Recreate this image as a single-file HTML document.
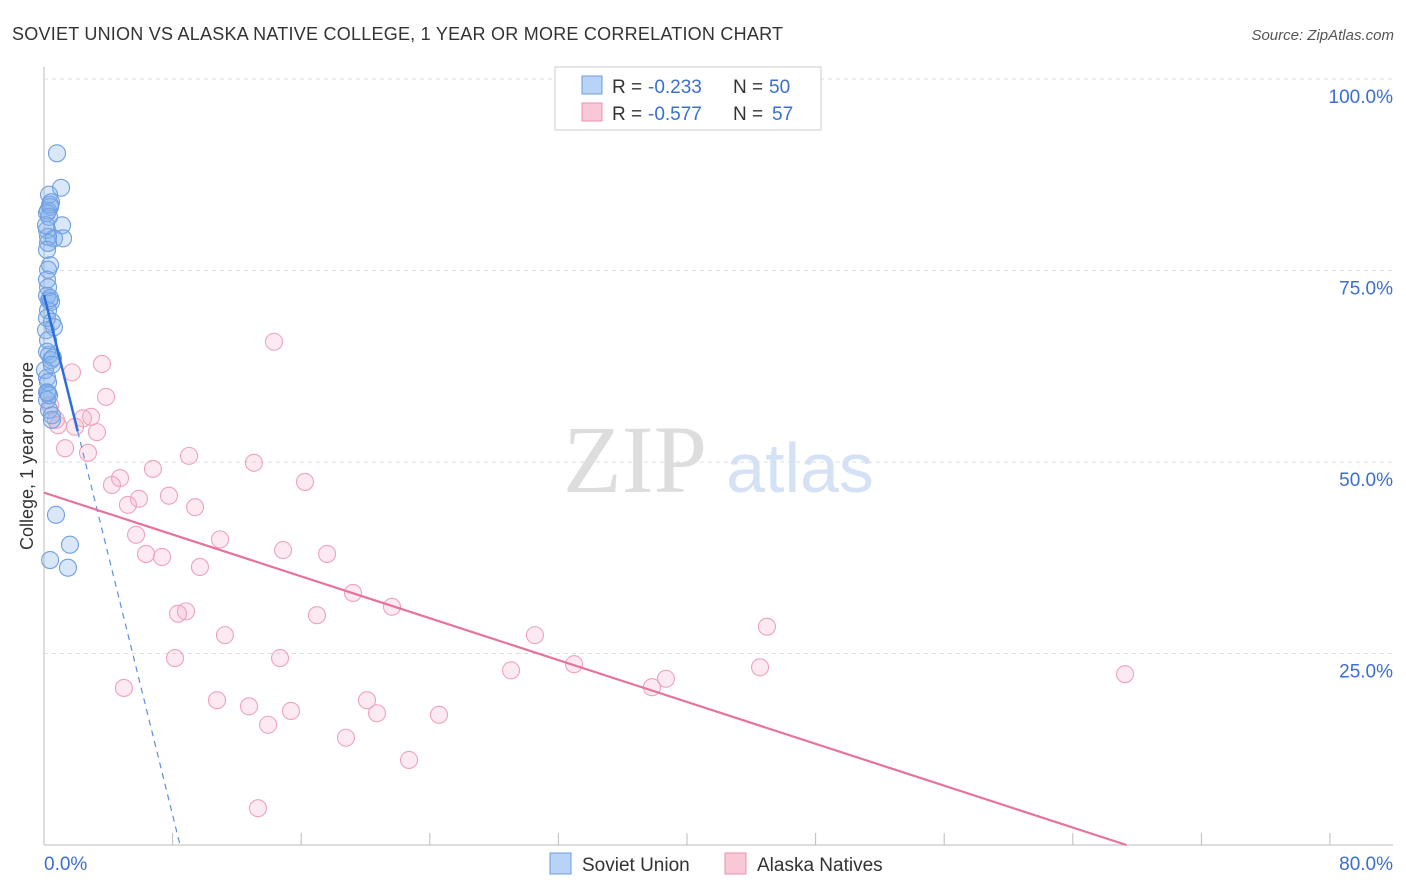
<!DOCTYPE html>
<html><head><meta charset="utf-8"><style>
body{margin:0;background:#fff;font-family:"Liberation Sans",sans-serif;}
svg{display:block}
</style></head><body>
<svg id="c" width="1406" height="892">
<text x="12" y="40" font-size="18" fill="#333" textLength="771">SOVIET UNION VS ALASKA NATIVE COLLEGE, 1 YEAR OR MORE CORRELATION CHART</text>
<text x="1394" y="40" font-size="15" fill="#555" font-style="italic" text-anchor="end">Source: ZipAtlas.com</text>
<text x="635" y="492" font-size="96" fill="#ddd" font-family="Liberation Serif" text-anchor="middle">ZIP</text>
<text x="800" y="492" font-size="70" fill="#d5e2f5" text-anchor="middle">atlas</text>
<text transform="translate(33,456) rotate(-90)" font-size="18" fill="#333" text-anchor="middle">College, 1 year or more</text>
<g id="grid"></g><g id="pts"></g><g id="lines"></g>
<g>
<rect x="555" y="67" width="266" height="63" fill="#fff" stroke="#ccc"/>
<rect x="582" y="76" width="20" height="18" fill="#b8d3f5" stroke="#6a9de0"/>
<rect x="582" y="103" width="20" height="18" fill="#f9c8d6" stroke="#e891ad"/>
<text x="612" y="93" font-size="19" fill="#333">R =</text>
<text x="648" y="93" font-size="19" fill="#3a6fd0">-0.233</text>
<text x="733" y="93" font-size="19" fill="#333">N =</text>
<text x="769" y="93" font-size="19" fill="#3a6fd0">50</text>
<text x="612" y="120" font-size="19" fill="#333">R =</text>
<text x="648" y="120" font-size="19" fill="#3a6fd0">-0.577</text>
<text x="733" y="120" font-size="19" fill="#333">N =</text>
<text x="772" y="120" font-size="19" fill="#3a6fd0">57</text>
</g>
<g>
<rect x="550" y="853" width="21" height="21" fill="#b8d3f5" stroke="#6a9de0"/>
<text x="582" y="871" font-size="19" fill="#333">Soviet Union</text>
<rect x="725" y="853" width="21" height="21" fill="#f9c8d6" stroke="#e891ad"/>
<text x="757" y="871" font-size="19" fill="#333">Alaska Natives</text>
</g>
<text x="44" y="870" font-size="19" fill="#3a6fd0">0.0%</text>
<text x="1393" y="870" font-size="19" fill="#3a6fd0" text-anchor="end">80.0%</text>
</svg>
<script>
const yTicks=[100,75,50,25];
const yTickLabels=["100.0%","75.0%","50.0%","25.0%"];
const blueX=[0.77,1.01,0.30,0.42,0.36,0.24,0.18,1.07,0.18,1.13,0.59,0.24,0.36,0.24,0.24,0.18,0.30,0.42,0.24,0.18,0.47,0.59,0.18,0.30,0.42,0.53,0.18,0.24,0.18,0.30,0.47,0.71,1.54,1.42,0.36,0.24,0.18,0.30,0.36,0.12,0.24,0.18,0.47,0.06,0.24,0.36,0.12,0.18,0.30,0.47];
const blueY=[90.3,85.8,84.9,83.9,83.3,82.8,82.5,80.9,80.3,79.2,79.2,78.6,75.7,75.1,72.8,71.7,71.1,70.9,69.8,68.8,68.3,67.6,64.4,64.0,63.3,63.6,61.0,59.0,58.1,56.8,56.1,43.1,39.2,36.2,37.2,79.4,77.7,82.0,71.4,67.2,65.9,59.1,55.5,62.0,60.4,83.6,80.9,73.8,58.7,62.7];
const pinkX=[13.64,3.44,1.66,3.68,2.79,2.31,0.83,1.84,3.14,0.71,1.25,2.61,8.60,6.46,12.45,4.51,4.03,15.48,5.63,7.41,4.98,8.96,5.46,10.44,14.18,6.05,7.00,16.79,9.25,18.33,20.64,8.42,7.95,16.19,10.73,29.12,42.88,7.77,14.00,27.70,31.44,42.47,64.12,36.89,36.06,4.74,10.26,19.16,12.16,14.65,19.75,23.43,13.29,17.91,21.65,12.69,0.36];
const pinkY=[65.7,62.8,61.7,58.5,55.9,55.7,54.8,54.6,53.9,55.5,51.8,51.2,50.8,49.1,49.9,47.9,47.0,47.4,45.2,45.6,44.4,44.1,40.5,39.9,38.5,38.0,37.6,38.0,36.3,32.9,31.1,30.5,30.2,30.0,27.4,27.4,28.5,24.4,24.4,22.8,23.6,23.2,22.3,21.7,20.6,20.5,18.9,18.9,18.1,17.5,17.2,17.0,15.7,14.0,11.1,4.8,57.4];
const blueTrend=[71.8,-8.9];
const pinkTrend=[46.0,-0.7165];
const X=v=>44+v*16.86, Y=v=>845-v*7.66;
const NS="http://www.w3.org/2000/svg";
function mk(p,t,a){const e=document.createElementNS(NS,t);for(const k in a)e.setAttribute(k,a[k]);p.appendChild(e);return e;}
const g=document.getElementById('grid');
const ax=mk(g,'line',{x1:44,y1:67,x2:44,y2:845,stroke:'#bbb'});


const bx=mk(g,'line',{x1:44,y1:845,x2:1393,y2:845,stroke:'#bbb'});


for(let i=0;i<=10;i++){const t=mk(g,'line',{x1:44+i*128.6,y1:833,x2:44+i*128.6,y2:845,stroke:'#bbb'});

}
yTicks.forEach((v,i)=>{const l=mk(g,'line',{x1:44,y1:Y(v),x2:1393,y2:Y(v),stroke:'#ddd','stroke-dasharray':'4,4'});


const t=mk(g,'text',{x:1393,y:Y(v)+24,'font-size':19,fill:'#3a6fd0','text-anchor':'end'});t.textContent=yTickLabels[i];

});
const P=document.getElementById('pts');
pinkX.forEach((x,i)=>{const c=mk(P,'circle',{cx:X(x),cy:Y(pinkY[i]),r:8.5,fill:'rgba(244,170,195,0.25)',stroke:'#eea3bb','stroke-width':1.1});

});
blueX.forEach((x,i)=>{const c=mk(P,'circle',{cx:X(x),cy:Y(blueY[i]),r:8.5,fill:'rgba(130,175,235,0.3)',stroke:'#6f9fe0','stroke-width':1.1});

});
const L=document.getElementById('lines');
const bz=-blueTrend[0]/blueTrend[1];
const b1=mk(L,'line',{x1:X(0),y1:Y(blueTrend[0]),x2:X(2),y2:Y(blueTrend[0]+blueTrend[1]*2),stroke:'#2d6fd8','stroke-width':2.5});


const b2=mk(L,'line',{x1:X(2),y1:Y(blueTrend[0]+blueTrend[1]*2),x2:X(bz),y2:Y(0),stroke:'#5b8fe0','stroke-width':1.2,'stroke-dasharray':'6,5'});


const pz=-pinkTrend[0]/pinkTrend[1];
const p1=mk(L,'line',{x1:X(0),y1:Y(pinkTrend[0]),x2:X(pz),y2:Y(0),stroke:'#e5739c','stroke-width':2.2});


</script>
</body></html>
